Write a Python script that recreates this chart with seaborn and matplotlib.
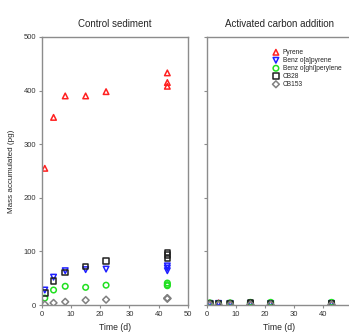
# Passive sampler uptake: control vs activated carbon
import pandas as pd
import matplotlib
matplotlib.use("Agg")
import matplotlib.pyplot as plt
import seaborn as sns

# data
compounds = ["Pyrene", "Benzo[a]pyrene", "Benzo[ghi]perylene", "CB28", "CB153"]
legend_labels = ["Pyrene", "Benz o[a]pyrene", "Benz o[ghi]perylene", "CB28", "CB153"]
colors = ["#ff2020", "#2020ff", "#20e020", "#202020", "#808080"]
markers = ["^", "v", "o", "s", "D"]

ctrl_time = [1, 4, 8, 15, 22, 43, 43, 43]
ctrl_pyrene = [255, 350, 390, 390, 398, 433, 415, 408]
ctrl_bap = [28, 52, 64, 66, 67, 73, 69, 64]
ctrl_bghip = [13, 28, 35, 33, 37, 41, 38, 36]
ctrl_cb28 = [22, 45, 61, 72, 82, 98, 93, 87]
ctrl_cb153 = [1, 4, 6, 9, 10, 13, 12, 12]

ac_time = [1, 4, 8, 15, 15, 22, 43, 43]
ac_pyrene = [4, 4, 4, 4, 4, 4, 4, 4]
ac_bap = [3, 3, 3, 3, 3, 3, 3, 3]
ac_bghip = [4, 3, 4, 4, 5, 5, 5, 4]
ac_cb28 = [2, 2, 2, 3, 4, 3, 3, 3]
ac_cb153 = [1, 1, 1, 1, 1, 1, 1, 1]

rows = []
for cond, t, series in [
    ("Control sediment", ctrl_time, [ctrl_pyrene, ctrl_bap, ctrl_bghip, ctrl_cb28, ctrl_cb153]),
    ("Activated carbon addition", ac_time, [ac_pyrene, ac_bap, ac_bghip, ac_cb28, ac_cb153]),
]:
    for name, vals in zip(compounds, series):
        for ti, v in zip(t, vals):
            rows.append({"cond": cond, "compound": name, "time": ti, "mass": v})
df = pd.DataFrame(rows)

sns.set_style("white")
plt.rcParams["font.family"] = ["Liberation Sans", "DejaVu Sans"]

fig = plt.figure(figsize=(3.49, 3.33), dpi=100)
ax1 = fig.add_axes([0.120, 0.084, 0.418, 0.805])
ax2 = fig.add_axes([0.593, 0.084, 0.415, 0.805])

for ax, cond in [(ax1, "Control sediment"), (ax2, "Activated carbon addition")]:
    sub = df[df.cond == cond]
    for name, lab, c, m in zip(compounds, legend_labels, colors, markers):
        d = sub[sub.compound == name]
        sns.scatterplot(data=d, x="time", y="mass", marker=m, s=16 if m != "D" else 12,
                        facecolor="none", edgecolor=c, linewidth=1.1, label=lab, ax=ax)
    ax.set_xlim(0, 50)
    ax.set_ylim(0, 500)
    ax.set_yticks([0, 100, 200, 300, 400, 500])
    ax.set_title(cond, fontsize=7, pad=7)
    ax.set_xlabel("Time (d)", fontsize=6.2, labelpad=4)
    for s in ax.spines.values():
        s.set_color("#8c8c8c")
        s.set_linewidth(1.0)
    ax.tick_params(axis="both", labelsize=5.5, colors="#8c8c8c", labelcolor="#333333",
                   length=2, width=0.8, direction="out", bottom=True, left=True, pad=2)

ax1.set_xticks([0, 10, 20, 30, 40, 50])
ax2.set_xticks([0, 10, 20, 30, 40])
ax1.set_ylabel("Mass accumulated (pg)", fontsize=5.8, labelpad=6)
ax1.get_legend().remove()
ax2.set_ylabel("")
ax2.set_yticklabels([])
ax2.legend(loc="upper left", bbox_to_anchor=(0.43, 0.965), frameon=False, fontsize=4.8,
           handletextpad=0.4, labelspacing=0.15, borderaxespad=0, handlelength=1.2)

fig.savefig("out.png", dpi=100)
